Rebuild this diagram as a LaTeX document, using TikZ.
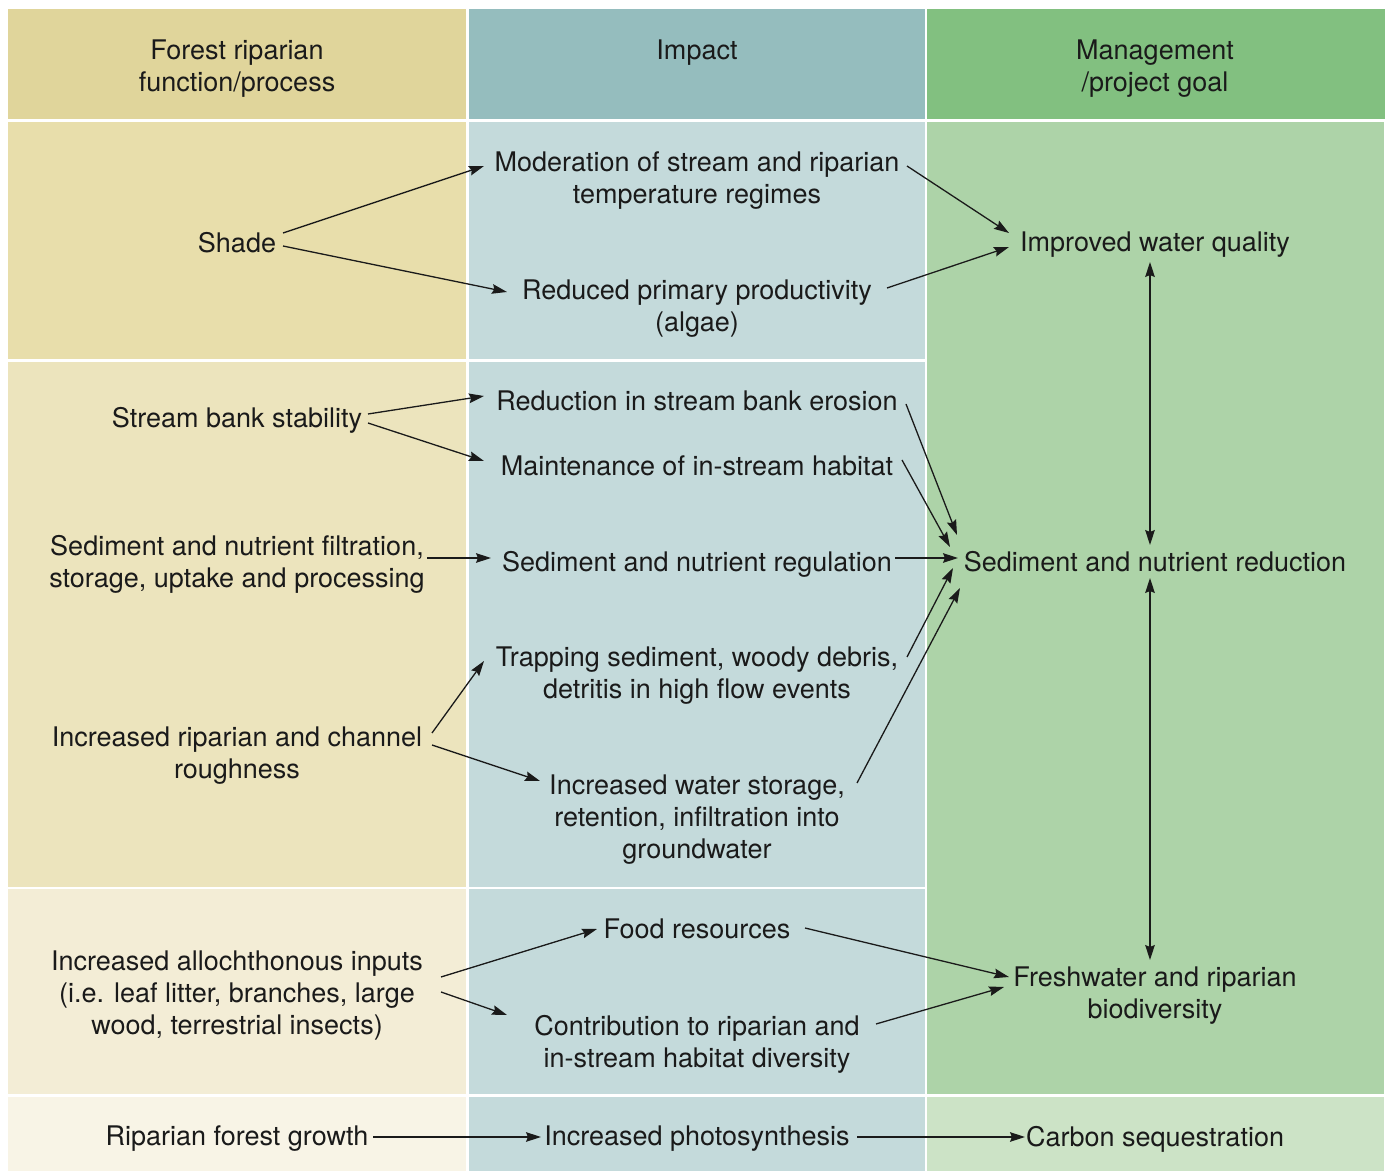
\documentclass[tikz,border=0pt]{standalone}
\usepackage{fontspec}
\setmainfont{TeX Gyre Heros}
\usetikzlibrary{arrows.meta}

\definecolor{headA}{HTML}{E0D59B}
\definecolor{headB}{HTML}{95BDBE}
\definecolor{headC}{HTML}{82C080}
\definecolor{rowA}{HTML}{E8DEAB}
\definecolor{rowB}{HTML}{ECE4BD}
\definecolor{rowC}{HTML}{F3EDD6}
\definecolor{rowD}{HTML}{F8F4E6}
\definecolor{bodyB}{HTML}{C4DADB}
\definecolor{bodyC}{HTML}{ADD3A8}
\definecolor{footC}{HTML}{CCE3C6}
\definecolor{ink}{HTML}{1A1A1A}

\tikzset{
  lbl/.style={inner sep=0pt, align=center, text=ink, text depth=0pt,
    font=\fontsize{13.5}{16}\selectfont},
  arr/.style={draw=ink, line width=0.65pt,
    -{Stealth[length=7.5pt,width=4.8pt,inset=1pt]}},
  dbl/.style={draw=ink, line width=0.65pt,
    {Stealth[length=7.5pt,width=4.8pt,inset=1pt]}-{Stealth[length=7.5pt,width=4.8pt,inset=1pt]}}
}

\begin{document}
\begin{tikzpicture}[x=0.5pt,y=-0.5pt]
\useasboundingbox (0,0) rectangle (1389,1171);
\fill[white] (0,0) rectangle (1389,1171);

% column headers
\fill[headA] (8,9) rectangle (466,119.5);
\fill[headB] (468.5,9) rectangle (924.5,119.5);
\fill[headC] (927,9) rectangle (1385,119.5);

% first column bands
\fill[rowA] (8,122) rectangle (466,359.5);
\fill[rowB] (8,362) rectangle (466,886.8);
\fill[rowC] (8,889.3) rectangle (466,1093.5);
\fill[rowD] (8,1096.5) rectangle (466,1171);

% second column bands
\fill[bodyB] (468.5,122) rectangle (924.5,359.5);
\fill[bodyB] (468.5,362) rectangle (924.5,886.8);
\fill[bodyB] (468.5,889.3) rectangle (924.5,1093.5);
\fill[bodyB] (468.5,1096.5) rectangle (924.5,1171);

% third column
\fill[bodyC] (927,122) rectangle (1383.5,1093.5);
\fill[footC] (927,1096.5) rectangle (1383.5,1171);

% headers
\node[lbl] (h1) at (237,66) {Forest riparian\\function/process};
\node[lbl] (h2) at (697,50) {Impact};
\node[lbl] (h3) at (1155,66) {Management\\/project goal};

% shade band
\node[lbl] (shade) at (237,242) {Shade};
\node[lbl] (mod) at (697,178) {Moderation of stream and riparian\\temperature regimes};
\node[lbl] (red) at (697,306) {Reduced primary productivity\\(algae)};
\node[lbl] (iwq) at (1155,242) {Improved water quality};

% bank / sediment band
\node[lbl] (sbs) at (237,417) {Stream bank stability};
\node[lbl] (rse) at (697,401) {Reduction in stream bank erosion};
\node[lbl] (mih) at (697,466) {Maintenance of in-stream habitat};
\node[lbl] (filt) at (237,561) {Sediment and nutrient filtration,\\storage, uptake and processing};
\node[lbl] (reg) at (697,561) {Sediment and nutrient regulation};
\node[lbl] (snr) at (1155,561) {Sediment and nutrient reduction};
\node[lbl] (trap) at (697,673) {Trapping sediment, woody debris,\\detritis in high flow events};
\node[lbl] (rough) at (237,753) {Increased riparian and channel\\roughness};
\node[lbl] (stor) at (697,817) {Increased water storage,\\retention, infiltration into\\groundwater};

% inputs band
\node[lbl] (allo) at (237,993) {Increased allochthonous inputs\\(i.e. leaf litter, branches, large\\wood, terrestrial insects)};
\node[lbl] (food) at (697,929) {Food resources};
\node[lbl] (contr) at (697,1041) {Contribution to riparian and\\in-stream habitat diversity};
\node[lbl] (bio) at (1155,993) {Freshwater and riparian\\biodiversity};

% growth band
\node[lbl] (grow) at (237,1136) {Riparian forest growth};
\node[lbl] (photo) at (697,1136) {Increased photosynthesis};
\node[lbl] (carb) at (1155,1136) {Carbon sequestration};

% connectors
\draw[arr] ([shift={(46,-9)}]shade.center) -- ([shift={(-213,-12)}]mod.center);
\draw[arr] ([shift={(46,4)}]shade.center) -- ([shift={(-190,-14)}]red.center);
\draw[arr] ([shift={(210,-12)}]mod.center) -- ([shift={(-146,-9)}]iwq.center);
\draw[arr] ([shift={(190,-18)}]red.center) -- ([shift={(-146,5)}]iwq.center);
\draw[dbl] ([shift={(-5,20)}]iwq.center) -- ([shift={(-5,-16)}]snr.center);
\draw[dbl] ([shift={(-5,17)}]snr.center) -- ([shift={(-5,-33)}]bio.center);

\draw[arr] ([shift={(131,-3)}]sbs.center) -- ([shift={(-213,-5)}]rse.center);
\draw[arr] ([shift={(131,6)}]sbs.center) -- ([shift={(-213,-5)}]mih.center);
\draw[arr] ([shift={(209,3)}]rse.center) -- ([shift={(-198,-26)}]snr.center);
\draw[arr] ([shift={(205,-6)}]mih.center) -- ([shift={(-205,-14)}]snr.center);
\draw[arr] ([shift={(198,-3)}]reg.center) -- ([shift={(-197,-3)}]snr.center);
\draw[arr] ([shift={(210,-16)}]trap.center) -- ([shift={(-202,7)}]snr.center);
\draw[arr] ([shift={(160,-34)}]stor.center) -- ([shift={(-195,27)}]snr.center);
\draw[arr] ([shift={(190,-3)}]filt.center) -- ([shift={(-206,-3)}]reg.center);
\draw[arr] ([shift={(195,-20)}]rough.center) -- ([shift={(-213,-12)}]trap.center);
\draw[arr] ([shift={(195,-8)}]rough.center) -- ([shift={(-157,-36)}]stor.center);

\draw[arr] ([shift={(204,-16)}]allo.center) -- ([shift={(-100,0)}]food.center);
\draw[arr] ([shift={(204,-1)}]allo.center) -- ([shift={(-190,-26)}]contr.center);
\draw[arr] ([shift={(108,-1)}]food.center) -- ([shift={(-146,-16)}]bio.center);
\draw[arr] ([shift={(179,-17)}]contr.center) -- ([shift={(-151,-6)}]bio.center);

\draw[arr] ([shift={(136,1)}]grow.center) -- ([shift={(-156,1)}]photo.center);
\draw[arr] ([shift={(160,1)}]photo.center) -- ([shift={(-130,1)}]carb.center);
\end{tikzpicture}
\end{document}
